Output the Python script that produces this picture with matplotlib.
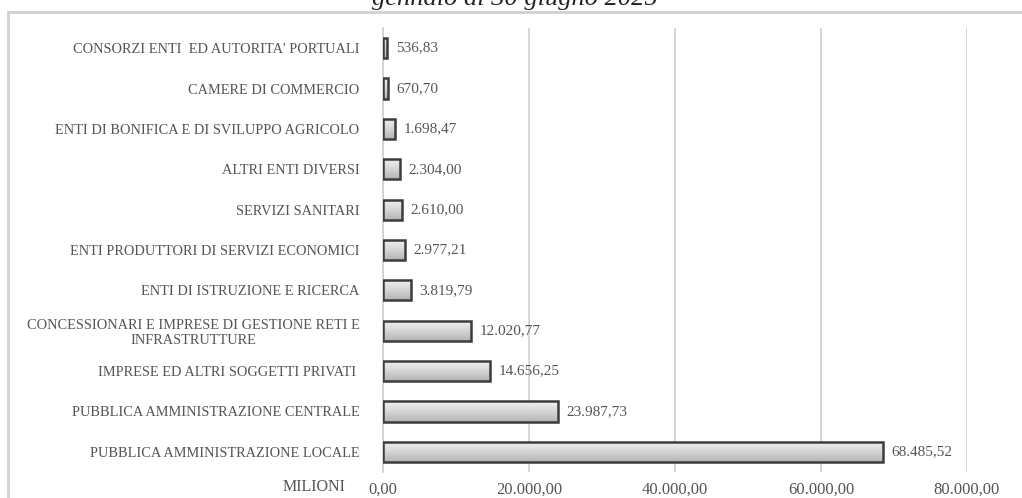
import numpy as np
import matplotlib.pyplot as plt
from matplotlib.patches import Rectangle
from matplotlib.colors import LinearSegmentedColormap
from matplotlib.ticker import FuncFormatter

# categories (top to bottom as in the picture)
categorie = [
    "CONSORZI ENTI  ED AUTORITA' PORTUALI",
    "CAMERE DI COMMERCIO",
    "ENTI DI BONIFICA E DI SVILUPPO AGRICOLO",
    "ALTRI ENTI DIVERSI",
    "SERVIZI SANITARI",
    "ENTI PRODUTTORI DI SERVIZI ECONOMICI",
    "ENTI DI ISTRUZIONE E RICERCA",
    "CONCESSIONARI E IMPRESE DI GESTIONE RETI E\nINFRASTRUTTURE",
    "IMPRESE ED ALTRI SOGGETTI PRIVATI ",
    "PUBBLICA AMMINISTRAZIONE CENTRALE",
    "PUBBLICA AMMINISTRAZIONE LOCALE",
]
valori = [536.83, 670.70, 1698.47, 2304.00, 2610.00, 2977.21,
          3819.79, 12020.77, 14656.25, 23987.73, 68485.52]
xticks = [0, 20000, 40000, 60000, 80000]


def it_fmt(v):
    s = f"{v:,.2f}"
    return s.replace(",", "X").replace(".", ",").replace("X", ".")


plt.rcParams['font.family'] = ['Liberation Serif', 'DejaVu Serif']
txt = '#555555'

fig = plt.figure(figsize=(10.22, 4.98), dpi=100)
ax = fig.add_axes([383 / 1022, 1 - 472 / 498, 584 / 1022, 444 / 498])

# outer frame of the chart box (partially cut by the image border)
fig.patches.append(Rectangle((8 / 1022, -0.1), 1.2, 1 - 12 / 498 + 0.1,
                             transform=fig.transFigure, fill=False,
                             edgecolor='#d0d0d0', linewidth=2))

# title, cut off at the top as in the source
fig.text(515 / 1022, 1 - 5 / 498, "gennaio al 30 giugno 2025", ha='center',
         va='baseline', fontsize=19, style='italic', color='#222222')

y = np.arange(len(categorie))
bars = ax.barh(y, valori, height=0.5, facecolor='none',
               edgecolor='#3c3c3c', linewidth=1.8, zorder=3)

cm = LinearSegmentedColormap.from_list('g', ['#f2f2f2', '#d6d6d6', '#b4b4b4'])
grad = np.linspace(0, 1, 64).reshape(-1, 1)
for b in bars:
    x0, y0, w, h = b.get_x(), b.get_y(), b.get_width(), b.get_height()
    im = ax.imshow(grad, cmap=cm, aspect='auto',
                   extent=(x0, x0 + w, y0 + h, y0), zorder=2,
                   interpolation='bilinear')
    im.set_clip_path(b)

for yi, v in zip(y, valori):
    ax.text(v + 1200, yi, it_fmt(v), va='center', ha='left',
            fontsize=11, color=txt)

ax.set_xlim(0, 80000)
ax.set_ylim(len(categorie) - 0.5, -0.5)
ax.set_xticks(xticks)
ax.xaxis.set_major_formatter(FuncFormatter(lambda v, p: it_fmt(v)))
ax.set_yticks(y)
ax.set_yticklabels(categorie, multialignment='center')
ax.tick_params(axis='both', length=0, labelcolor=txt)
ax.tick_params(axis='y', pad=17, labelsize=10.4)
ax.tick_params(axis='x', pad=7, labelsize=12)
ax.grid(axis='x', color='#d0d0d0', linewidth=1.2, zorder=0)
for s in ['top', 'right', 'bottom']:
    ax.spines[s].set_visible(False)
ax.spines['left'].set_color('#d0d0d0')
ax.spines['left'].set_linewidth(1.2)

ax.text(-0.065, -0.016, "MILIONI", transform=ax.transAxes, ha='right',
        va='top', fontsize=11.5, color=txt)

fig.savefig('out.png', dpi=100)
